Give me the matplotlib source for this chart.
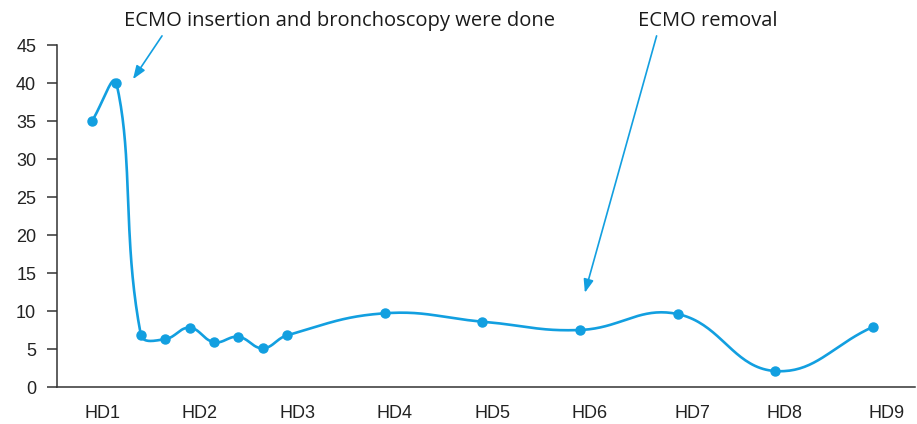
import numpy as np
import matplotlib
matplotlib.use('Agg')
import matplotlib.pyplot as plt

# category slot of each measurement (HD1 starts at slot 0, one day = 4 slots)
slots = [0, 1, 2, 3, 4, 5, 6, 7, 8, 12, 16, 20, 24, 28, 32]
values = [35, 40, 6.9, 6.3, 7.8, 5.9, 6.6, 5.1, 6.8, 9.7, 8.6, 7.5, 9.6, 2.1, 7.9]
day_labels = ['HD1', 'HD2', 'HD3', 'HD4', 'HD5', 'HD6', 'HD7', 'HD8', 'HD9']
day_label_pos = [0.45, 4.42, 8.44, 12.41, 16.43, 20.4, 24.6, 28.4, 32.57]
y_ticks = [0, 5, 10, 15, 20, 25, 30, 35, 40, 45]

BLUE = '#129fe0'
AXIS = '#333333'


def smooth_curve(ax, xs, ys, t=0.42, n=40):
    "excel-like smoothed line, built in display space"
    P = ax.transData.transform(np.column_stack([xs, ys]))
    out = []
    for i in range(len(P) - 1):
        p0 = P[i - 1] if i > 0 else P[i]
        p1, p2 = P[i], P[i + 1]
        p3 = P[i + 2] if i + 2 < len(P) else P[i + 1]
        d01 = np.hypot(*(p1 - p0))
        d12 = np.hypot(*(p2 - p1))
        d23 = np.hypot(*(p3 - p2))
        c1 = p1 + (p2 - p0) * t * d12 / (d01 + d12)
        c2 = p2 - (p3 - p1) * t * d12 / (d12 + d23)
        s = np.linspace(0, 1, n)[:, None]
        seg = ((1 - s) ** 3) * p1 + 3 * ((1 - s) ** 2) * s * c1 + 3 * (1 - s) * s ** 2 * c2 + s ** 3 * p2
        out.append(seg)
    pts = np.vstack(out)
    return ax.transData.inverted().transform(pts)


fig = plt.figure(figsize=(9.17, 4.24), dpi=100)
ax = fig.add_axes([57 / 917, 37 / 424, 858 / 917, 342 / 424])
ax.set_xlim(-1.434, 33.73)
ax.set_ylim(0, 45)

curve = smooth_curve(ax, slots, values)
ax.plot(curve[:, 0], curve[:, 1], color=BLUE, lw=1.9, solid_capstyle='round', zorder=2)
ax.plot(slots, values, 'o', color=BLUE, ms=6.5, zorder=3)

for side in ['top', 'right']:
    ax.spines[side].set_visible(False)
for side in ['left', 'bottom']:
    ax.spines[side].set_color(AXIS)
    ax.spines[side].set_linewidth(1.1)

ax.set_yticks(y_ticks)
ax.set_yticklabels([str(v) for v in y_ticks], fontsize=13, family='Liberation Sans', color='#222222')
ax.tick_params(axis='y', length=7, width=1.1, color=AXIS, pad=8)
ax.set_xticks(day_label_pos)
ax.set_xticklabels(day_labels, fontsize=13, family='Liberation Sans', color='#222222')
ax.tick_params(axis='x', length=0, pad=13)

# annotations
fig.text(339 / 917, 1 - 21 / 424, 'ECMO insertion and bronchoscopy were done',
         ha='center', va='center', fontsize=14.5, family='Open Sans', color='#1a1a1a')
fig.text(708 / 917, 1 - 21 / 424, 'ECMO removal',
         ha='center', va='center', fontsize=14.5, family='Open Sans', color='#1a1a1a')
arrow = dict(arrowstyle='-|>,head_length=0.8,head_width=0.3', color=BLUE, lw=1.2,
             shrinkA=0, shrinkB=0)
ax.annotate('', xy=(1.68, 40.5), xytext=(2.87, 46.2), arrowprops=arrow, annotation_clip=False)
ax.annotate('', xy=(20.2, 12.4), xytext=(23.14, 46.2), arrowprops=arrow, annotation_clip=False)

plt.savefig('out.png', dpi=100)
